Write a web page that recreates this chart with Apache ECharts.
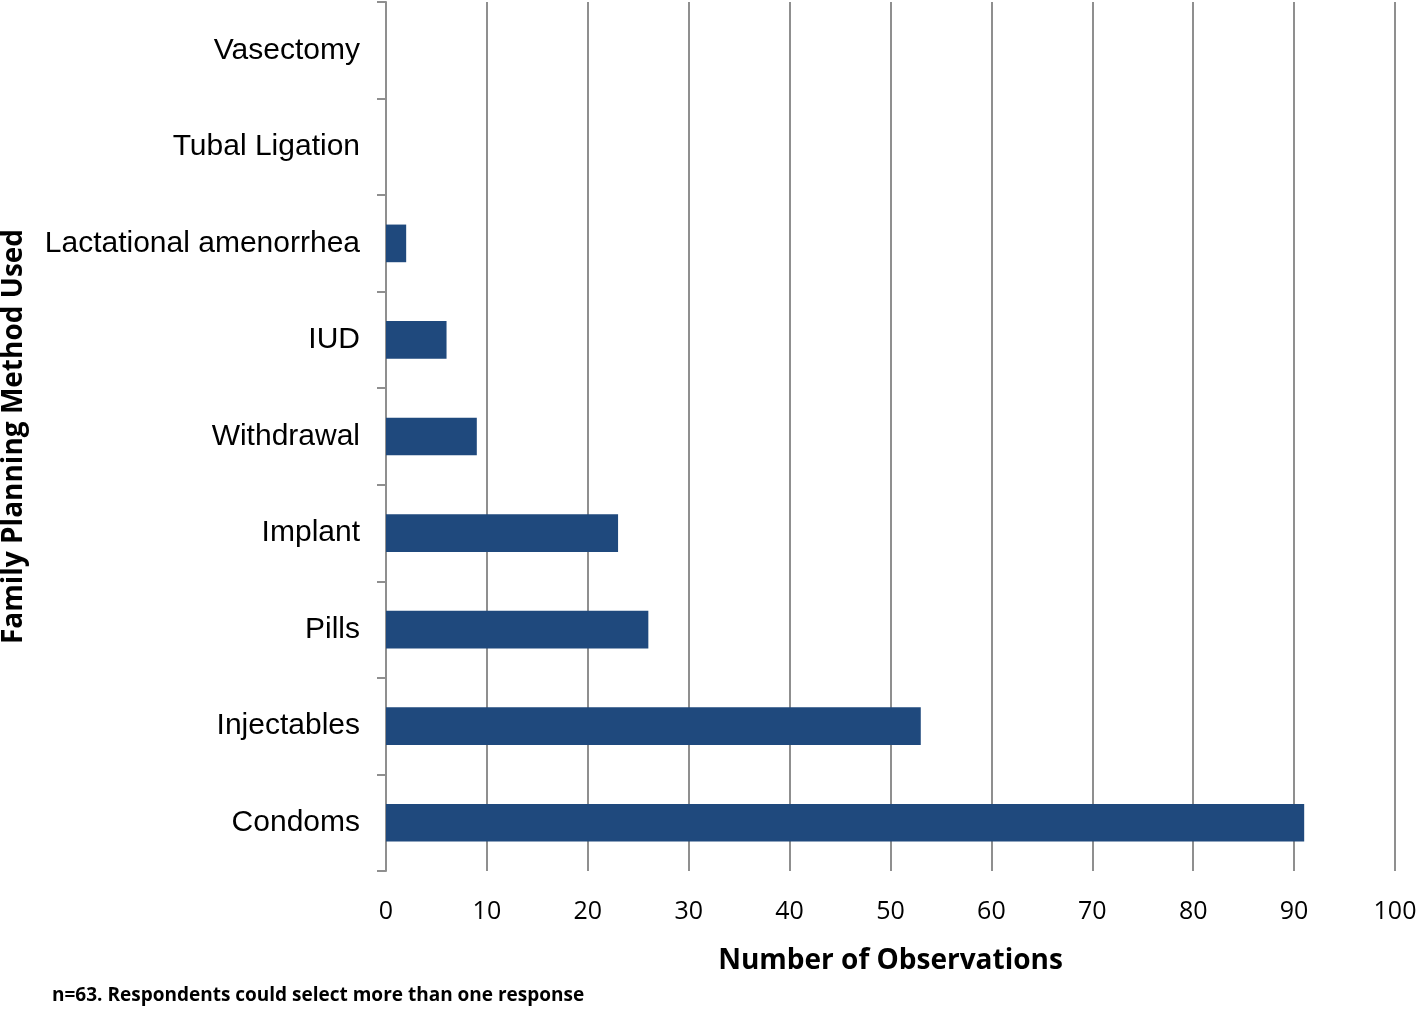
<!DOCTYPE html>
<html><head><meta charset="utf-8">
<script src="https://cdn.jsdelivr.net/npm/echarts@6/dist/echarts.min.js"></script>
<style>html,body{margin:0;padding:0;background:#fff}#c{width:1418px;height:1009px}</style>
</head><body><div id="c"></div>
<script>
const categories = ['Condoms','Injectables','Pills','Implant','Withdrawal','IUD','Lactational amenorrhea','Tubal Ligation','Vasectomy'];
const values = [91, 53, 26, 23, 9, 6, 2, 0, 0];
const xTicks = [0,10,20,30,40,50,60,70,80,90,100];
const chart = echarts.init(document.getElementById('c'), null, {renderer:'canvas'});
chart.setOption({
  animation:false,
  backgroundColor:'#fff',
  grid:{left:386, right:23, top:2, bottom:138, containLabel:false, outerBoundsMode:'none'},
  xAxis:{
    type:'value', min:xTicks[0], max:xTicks[xTicks.length-1], interval:10,
    axisLine:{show:false}, axisTick:{show:false},
    splitLine:{show:true, lineStyle:{color:'#8f8f8f', width:2}},
    axisLabel:{fontFamily:'Open Sans, Liberation Sans, sans-serif', fontSize:25, color:'#000', margin:28},
    name:'Number of Observations', nameLocation:'middle', nameGap:76,
    nameTextStyle:{fontFamily:'Open Sans, Liberation Sans, sans-serif', fontWeight:'bold', fontSize:28, color:'#000'}
  },
  yAxis:{
    type:'category', data:categories, boundaryGap:true,
    axisLine:{show:true, lineStyle:{color:'#8f8f8f', width:2}},
    axisTick:{show:true, length:9, lineStyle:{color:'#8f8f8f', width:2}},
    splitLine:{show:false},
    axisLabel:{fontFamily:'Liberation Sans, Arial, sans-serif', fontSize:30, color:'#000', margin:26},
    name:'Family Planning Method Used', nameLocation:'middle', nameGap:358, nameRotate:90,
    nameTextStyle:{fontFamily:'Open Sans, Liberation Sans, sans-serif', fontWeight:'bold', fontSize:28, color:'#000'}
  },
  series:[{
    type:'bar', data:values, barWidth:'39%',
    itemStyle:{color:'#1f497d'}
  }],
  graphic:[{
    type:'text', left:52, top:986,
    style:{text:'n=63. Respondents could select more than one response', font:'bold 19px "Open Sans", "Liberation Sans", sans-serif', fill:'#000'}
  }]
});
</script></body></html>
